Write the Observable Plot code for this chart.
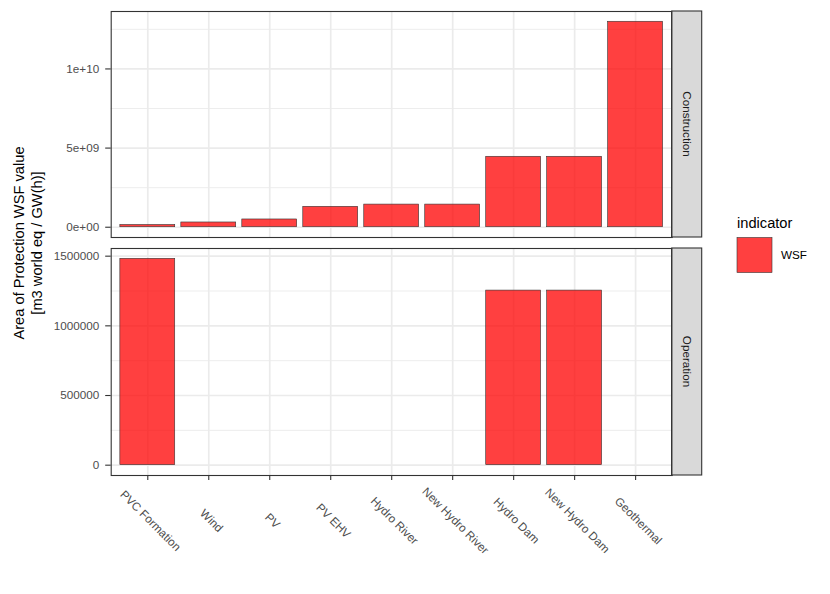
<!DOCTYPE html>
<html>
<head>
<meta charset="utf-8">
<script src="https://cdn.jsdelivr.net/npm/d3@7"></script>
<script src="https://cdn.jsdelivr.net/npm/@observablehq/plot@0.6"></script>
<style>
  html, body { margin: 0; padding: 0; background: #fff; }
  #wrap { position: relative; width: 830px; height: 594px; background: #fff; overflow: hidden; }
  #wrap > svg { position: absolute; left: 0; }
</style>
</head>
<body>
<div id="wrap"></div>
<script>
const categories = ["PVC Formation", "Wind", "PV", "PV EHV", "Hydro River", "New Hydro River", "Hydro Dam", "New Hydro Dam", "Geothermal"];
const constructionValues = [1.4e8, 3.0e8, 4.9e8, 1.29e9, 1.43e9, 1.43e9, 4.45e9, 4.45e9, 1.298e10];
const operationValues = [1.481e6, null, null, null, null, null, 1.253e6, 1.253e6, null];
const constructionTicks = [0, 5e9, 1e10];
const constructionTickLabels = ["0e+00", "5e+09", "1e+10"];
const constructionMinor = [2.5e9, 7.5e9, 1.25e10];
const operationTicks = [0, 500000, 1000000, 1500000];
const operationTickLabels = ["0", "500000", "1000000", "1500000"];
const operationMinor = [250000, 750000, 1250000];
const panels = ["Construction", "Operation"];
const indicator = "WSF";
const yTitle = ["Area of Protection WSF value", "[m3 world eq / GW(h)]"];
const legendTitle = "indicator";

const FONT = "'Liberation Sans', Arial, Helvetica, sans-serif";
const wrap = document.getElementById("wrap");
const panelLeft = 110.7, panelRight = 671.7, stripW = 30;

function rows(values) {
  return categories.map((c, i) => ({name: c, value: values[i]})).filter(d => d.value != null);
}

function panel({values, ticks, labels, minor, top, height, marginTop, marginBottom, strip, bottomAxis}) {
  const maxV = d3.max(values.filter(v => v != null));
  const labelMap = new Map(ticks.map((t, i) => [t, labels[i]]));
  const marks = [
    Plot.ruleY(minor, {stroke: "#EBEBEB", strokeWidth: 0.9}),
    Plot.ruleY(ticks, {stroke: "#EBEBEB", strokeWidth: 1.7}),
    Plot.ruleX(categories, {x: d => d, stroke: "#EBEBEB", strokeWidth: 1.7}),
    Plot.barY(rows(values), {x: "name", y: "value", fill: "red", fillOpacity: 0.75, stroke: "#333333", strokeWidth: 0.6}),
    Plot.frame({stroke: "#333333", strokeWidth: 1.1}),
    Plot.axisY(ticks, {tickFormat: d => labelMap.get(d), tickSize: 5.5, tickPadding: 6.5, stroke: "#333333", strokeWidth: 1.1, fill: "#4D4D4D", fontSize: 11.7, label: null})
  ];
  if (bottomAxis) {
    marks.push(Plot.axisX({tickFormat: () => "", tickSize: 5, stroke: "#333333", strokeWidth: 1.1, label: null}));
    marks.push(Plot.text(categories, {x: d => d, text: d => d, frameAnchor: "bottom", dy: 48, rotate: 45, textAnchor: "middle", fill: "#4D4D4D", fontSize: 11.7}));
  }
  const svg = Plot.plot({
    width: 830,
    height,
    marginLeft: panelLeft,
    marginRight: 830 - panelRight,
    marginTop,
    marginBottom,
    style: {fontFamily: FONT, fontSize: "11.7px", background: "transparent", overflow: "visible"},
    x: {type: "band", domain: categories, paddingInner: 0.1, paddingOuter: 0.15, round: false, axis: bottomAxis ? undefined : null, label: null},
    y: {domain: [-0.05 * maxV, 1.05 * maxV], label: null},
    marks
  });
  svg.style.top = top + "px";
  const y0 = marginTop, y1 = height - marginBottom;
  const g = d3.select(svg).append("g");
  g.append("rect").attr("x", panelRight).attr("y", y0).attr("width", stripW).attr("height", y1 - y0)
    .attr("fill", "#D9D9D9").attr("stroke", "#333333").attr("stroke-width", 1.1);
  g.append("text").attr("transform", `translate(${panelRight + stripW / 2},${(y0 + y1) / 2}) rotate(90)`)
    .attr("text-anchor", "middle").attr("dy", "0.35em").attr("fill", "#1A1A1A")
    .style("font-family", FONT).style("font-size", "11.7px").text(strip);
  g.append("line").attr("x1", panelRight).attr("x2", panelRight).attr("y1", y0).attr("y2", y1)
    .attr("stroke", "#333333").attr("stroke-width", 1.1);
  wrap.appendChild(svg);
}

panel({values: constructionValues, ticks: constructionTicks, labels: constructionTickLabels, minor: constructionMinor,
  top: 0, height: 240, marginTop: 11, marginBottom: 3, strip: panels[0], bottomAxis: false});
panel({values: operationValues, ticks: operationTicks, labels: operationTickLabels, minor: operationMinor,
  top: 240, height: 354, marginTop: 8, marginBottom: 119, strip: panels[1], bottomAxis: true});

const ov = d3.select(wrap).append("svg").attr("width", 830).attr("height", 594)
  .style("position", "absolute").style("top", "0px").style("left", "0px")
  .style("font-family", FONT);
const yt = ov.append("text").attr("transform", "translate(28,243) rotate(-90)")
  .attr("text-anchor", "middle").attr("fill", "#000").style("font-size", "14.67px");
yt.append("tspan").attr("x", 0).attr("dy", "-0.3em").text(yTitle[0]);
yt.append("tspan").attr("x", 0).attr("dy", "1.25em").text(yTitle[1]);
ov.append("text").attr("x", 737).attr("y", 228).attr("fill", "#000").style("font-size", "14.67px").text(legendTitle);
ov.append("rect").attr("x", 737).attr("y", 237.5).attr("width", 35).attr("height", 35)
  .attr("fill", "red").attr("fill-opacity", 0.75).attr("stroke", "#333333").attr("stroke-width", 0.6);
ov.append("text").attr("x", 781).attr("y", 255).attr("dy", "0.35em").attr("fill", "#000").style("font-size", "11.7px").text(indicator);
</script>
</body>
</html>
